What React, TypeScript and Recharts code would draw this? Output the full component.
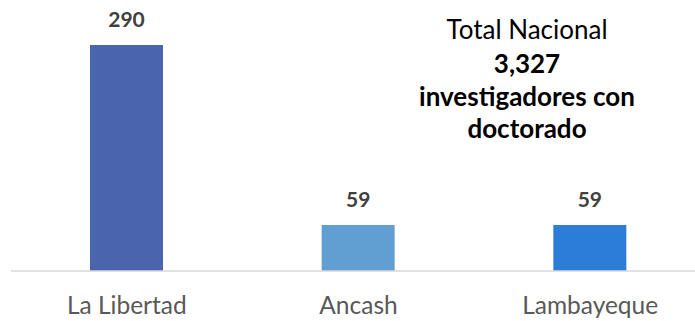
import React from 'react';
import { BarChart, Bar, XAxis, YAxis, Cell, LabelList } from 'recharts';

const regions = ['La Libertad', 'Ancash', 'Lambayeque'];
const investigadores = [290, 59, 59];
const barColors = ['#4A65AD', '#619FD3', '#2B7DD8'];

const totalTitle = 'Total Nacional';
const totalValue = '3,327';
const totalLines = ['investigadores con', 'doctorado'];

const data = regions.map((region, i) => ({ region, value: investigadores[i] }));

const FONT = 'Lato, "Open Sans", sans-serif';

// one centred line of the "Total Nacional" note
const lineStyle = (top: number, bold: boolean): React.CSSProperties => ({
  position: 'absolute',
  top,
  left: 527 - 150,
  width: 300,
  textAlign: 'center',
  fontFamily: FONT,
  fontSize: 26,
  fontWeight: bold ? 700 : 400,
  color: '#000',
  lineHeight: '33px',
  whiteSpace: 'nowrap',
});

export default function App() {
  return (
    <div
      style={{
        position: 'fixed',
        left: 0,
        top: 0,
        width: 695,
        height: 321,
        overflow: 'hidden',
        background: '#fff',
      }}
    >
      <BarChart
        width={720}
        height={321}
        data={data}
        margin={{ top: 45, right: 14, left: 11, bottom: 20 }}
      >
        <XAxis
          dataKey="region"
          height={30}
          tickLine={false}
          axisLine={{ stroke: '#D9D9D9', strokeWidth: 1.5 }}
          tick={{ fill: '#595959', fontSize: 24.5, fontFamily: FONT }}
          tickMargin={20}
        />
        <YAxis hide domain={[0, 290]} />
        <Bar dataKey="value" barSize={73} isAnimationActive={false}>
          {data.map((d, i) => (
            <Cell key={d.region} fill={barColors[i]} />
          ))}
          <LabelList
            dataKey="value"
            position="top"
            offset={18}
            style={{ fill: '#404040', fontSize: 21, fontWeight: 700, fontFamily: FONT }}
          />
        </Bar>
      </BarChart>
      <div style={lineStyle(13, false)}>{totalTitle}</div>
      <div style={lineStyle(47, true)}>{totalValue}</div>
      <div style={lineStyle(80, true)}>{totalLines[0]}</div>
      <div style={lineStyle(112, true)}>{totalLines[1]}</div>
    </div>
  );
}
